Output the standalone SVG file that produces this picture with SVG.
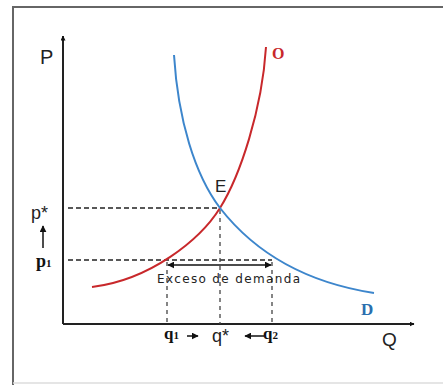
<svg xmlns="http://www.w3.org/2000/svg" width="443" height="385" viewBox="0 0 443 385">
  <defs>
    <marker id="ah" viewBox="0 0 10 10" refX="9" refY="5" markerWidth="5" markerHeight="5" orient="auto-start-reverse" markerUnits="userSpaceOnUse">
      <path d="M0,0 L10,5 L0,10 z" fill="#111"/>
    </marker>
    <marker id="ahs" viewBox="0 0 10 10" refX="9" refY="5" markerWidth="7" markerHeight="7" orient="auto-start-reverse" markerUnits="userSpaceOnUse">
      <path d="M0,0 L10,5 L0,10 z" fill="#111"/>
    </marker>
  </defs>
  <style>
    .frame { fill: none; stroke: #666; stroke-width: 2; }
    .axis { stroke: #222; stroke-width: 2; fill: none; }
    .dash { stroke: #222; stroke-width: 1.3; stroke-dasharray: 5 3; fill: none; }
    .vdash { stroke: #444; stroke-width: 1.3; stroke-dasharray: 4 4; fill: none; }
    .arr { stroke: #111; stroke-width: 1.5; fill: none; }
    .sans { font-family: "Liberation Sans", Arial, sans-serif; fill: #222; }
    .bold { font-family: "Liberation Serif", "Times New Roman", serif; font-weight: bold; fill: #111; }
  </style>
  <rect width="443" height="385" fill="#fff"/>
  <g id="frame">
    <path class="frame" d="M13,385 L13,7 L443,7"/>
    <path d="M13,383 L443,383" stroke="#ddd" stroke-width="1.5" fill="none"/>
  </g>
  <g id="axes">
    <path class="axis" d="M63,324 L63,36" marker-end="url(#ah)"/>
    <path class="axis" d="M63,324 L414,324" marker-end="url(#ah)"/>
  </g>
  <g id="connectors">
    <path class="dash" d="M68,208 L220,208"/>
    <path class="dash" d="M68,260 L272,260"/>
    <path class="vdash" d="M167,262 L167,324"/>
    <path class="vdash" d="M220,210 L220,324"/>
    <path class="vdash" d="M272,262 L272,324"/>
    <path class="arr" d="M168,265 L271,265" marker-start="url(#ahs)" marker-end="url(#ahs)"/>
    <path class="arr" d="M43,248 L43,226" marker-end="url(#ahs)"/>
    <path class="arr" d="M187,336 L198,336" marker-end="url(#ahs)"/>
    <path class="arr" d="M264,336 L245,336" marker-end="url(#ahs)"/>
  </g>
  <g id="supply">
    <path d="M92,287 C150,280 200,240 220,208 C240,176 262,110 266,47" fill="none" stroke="#c8282b" stroke-width="2"/>
  </g>
  <g id="demand">
    <path d="M174,55 C178,120 195,175 220,208 C245,240 290,280 374,293" fill="none" stroke="#3d86cc" stroke-width="2"/>
  </g>
  <g id="labels">
    <text class="sans" x="40" y="64" font-size="20">P</text>
    <text class="bold" x="272" y="59" font-size="16" style="fill:#c8282b">O</text>
    <text class="sans" x="215" y="192" font-size="17">E</text>
    <text class="sans" x="31" y="219" font-size="18">p*</text>
    <text class="bold" x="36" y="267" font-size="18">p<tspan font-size="11">1</tspan></text>
    <text x="157" y="283" font-size="12" textLength="143" lengthAdjust="spacing" style="font-family:'DejaVu Sans', sans-serif; fill:#222">Exceso de demanda</text>
    <text class="bold" x="361" y="315" font-size="17" style="fill:#2a6fae">D</text>
    <text class="sans" x="382" y="346" font-size="19">Q</text>
    <text class="bold" x="164" y="339" font-size="17">q<tspan font-size="11">1</tspan></text>
    <text class="sans" x="212" y="342" font-size="18">q*</text>
    <text class="bold" x="263" y="339" font-size="17">q<tspan font-size="11">2</tspan></text>
  </g>
</svg>
